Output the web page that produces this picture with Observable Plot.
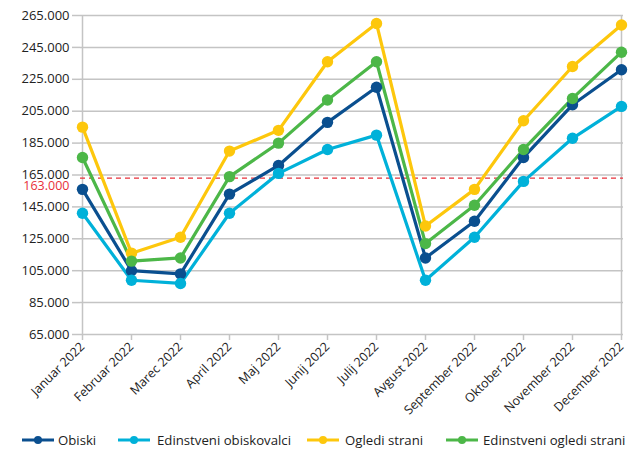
<!DOCTYPE html>
<html>
<head>
<meta charset="utf-8">
<script src="https://cdn.jsdelivr.net/npm/d3@7"></script>
<script src="https://cdn.jsdelivr.net/npm/@observablehq/plot@0.6"></script>
<style>
  body { margin: 0; background: #fff; font-family: "Open Sans", sans-serif; }
  #legend { position: relative; height: 30px; font-size: 13.2px; color: #222; }
  .sw { position: absolute; top: 15px; }
  .lab { position: absolute; top: 10px; line-height: 20px; white-space: nowrap; }
</style>
</head>
<body>
<div id="chart"></div>
<div id="legend"></div>
<script>
const months = ["Januar 2022","Februar 2022","Marec 2022","April 2022","Maj 2022","Junij 2022","Julij 2022","Avgust 2022","September 2022","Oktober 2022","November 2022","December 2022"];
const seriesNames = ["Obiski","Edinstveni obiskovalci","Ogledi strani","Edinstveni ogledi strani"];
const seriesColors = ["#0a4f8f","#00b1d9","#fdc70c","#4cb748"];
const obiski = [156000,105000,103000,153000,171000,198000,220000,113000,136000,176000,209000,231000];
const edinstveniObiskovalci = [141000,99000,97000,141000,166000,181000,190000,99000,126000,161000,188000,208000];
const ogledStrani = [195000,116000,126000,180000,193000,236000,260000,133000,156000,199000,233000,259000];
const edinstveniOgledi = [176000,111000,113000,164000,185000,212000,236000,122000,146000,181000,213000,242000];
const threshold = 163000;
const yTicks = [65000,85000,105000,125000,145000,165000,185000,205000,225000,245000,265000];

const seriesValues = [obiski, edinstveniObiskovalci, ogledStrani, edinstveniOgledi];
const data = [];
seriesNames.forEach((s, i) => months.forEach((m, j) => data.push({series: s, month: m, value: seriesValues[i][j]})));

const fmt = d => d3.format(",")(d).replace(/,/g, ".");
const grid = "#c4c4c4";

const chart = Plot.plot({
  width: 630,
  height: 420,
  marginLeft: 80,
  marginRight: 7,
  marginTop: 15,
  marginBottom: 86,
  style: {fontFamily: "Open Sans, sans-serif", fontSize: "12.5px", color: "#222"},
  x: {type: "point", domain: months, padding: 0},
  y: {domain: [65000, 265000]},
  color: {domain: seriesNames, range: seriesColors},
  marks: [
    Plot.gridY(yTicks, {stroke: grid, strokeOpacity: 1, strokeWidth: 1.5}),
    Plot.ruleX([months[0], months[11]], {stroke: grid, strokeWidth: 1.5}),
    Plot.axisY(yTicks, {tickFormat: fmt, tickSize: 8, tickPadding: 3, stroke: grid, strokeWidth: 1.5, fontSize: 13, fill: "#222", label: null}),
    Plot.axisX({tickRotate: -45, tickSize: 6, tickPadding: 4, stroke: grid, strokeWidth: 1.5, fontSize: 12.5, fill: "#222", label: null}),
    Plot.ruleY([threshold], {stroke: "#e8303a", strokeWidth: 1.3, strokeDasharray: "5,4"}),
    Plot.text([threshold], {y: d => d, text: d => fmt(d), frameAnchor: "left", textAnchor: "end", dx: -11, dy: 8, fill: "#e8303a", fontSize: 12.5}),
    Plot.line(data, {x: "month", y: "value", z: "series", stroke: "series", strokeWidth: 3.2}),
    Plot.dot(data, {x: "month", y: "value", fill: "series", r: 5.7})
  ]
});
document.getElementById("chart").appendChild(chart);

const legend = document.getElementById("legend");
const swX = [22, 118, 307, 446];
const labX = [58, 157, 345, 483];
seriesNames.forEach((s, i) => {
  const sw = document.createElement("div");
  sw.className = "sw";
  sw.style.left = swX[i] + "px";
  sw.innerHTML = `<svg width="32" height="10" style="display:block"><line x1="0" y1="5" x2="32" y2="5" stroke="${seriesColors[i]}" stroke-width="3"/><circle cx="16" cy="5" r="4" fill="${seriesColors[i]}"/></svg>`;
  const lab = document.createElement("div");
  lab.className = "lab";
  lab.style.left = labX[i] + "px";
  lab.textContent = s;
  legend.appendChild(sw);
  legend.appendChild(lab);
});
</script>
</body>
</html>
